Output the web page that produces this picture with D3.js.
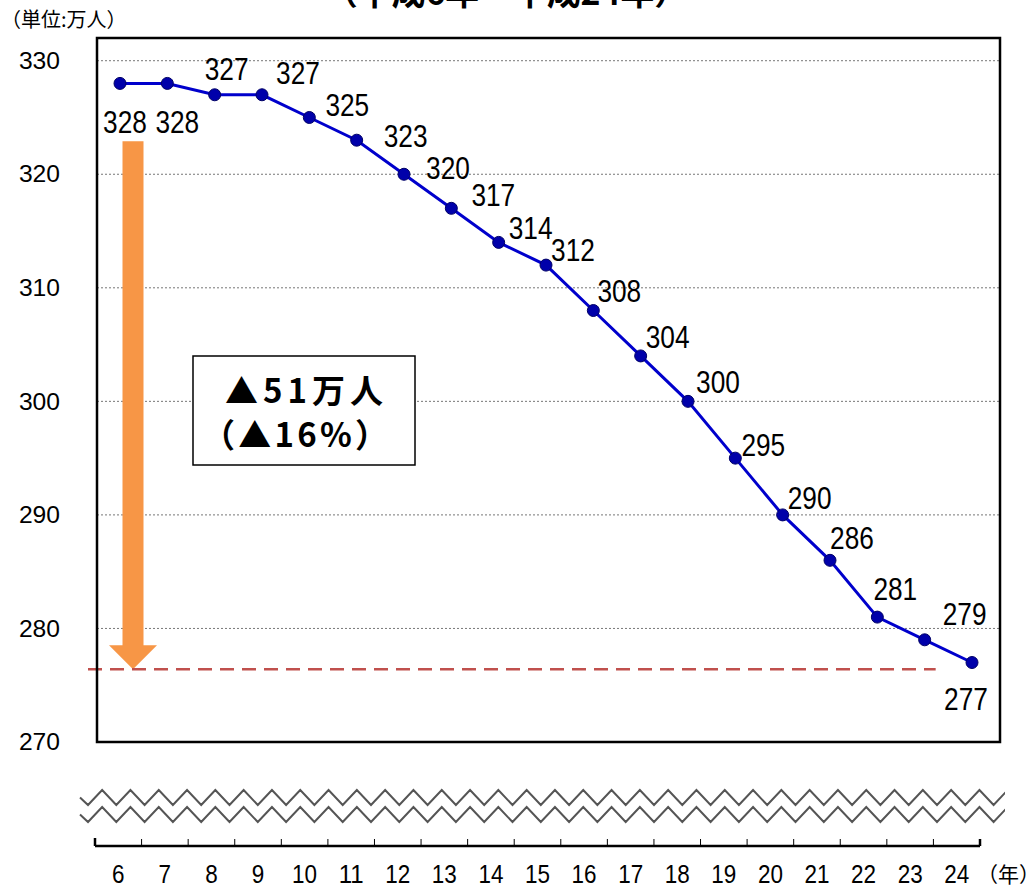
<!DOCTYPE html>
<html>
<head>
<meta charset="utf-8">
<script src="https://cdn.jsdelivr.net/npm/d3@7"></script>
<style>
  body { margin: 0; background: #fff; }
  svg { display: block; }
</style>
</head>
<body>
<div id="chart"></div>
<script>
// data (heisei years 6..24, workers in 10k persons)
const years = ["6", "7", "8", "9", "10", "11", "12", "13", "14", "15", "16", "17", "18", "19", "20", "21", "22", "23", "24"];
const workers = [328, 328, 327, 327, 325, 323, 320, 317, 314, 312, 308, 304, 300, 295, 290, 286, 281, 279, 277];
const yTicks = [270, 280, 290, 300, 310, 320, 330];
const gridTicks = [280, 290, 300, 310, 320, 330];
// arrow annotation: from just under the first label down to the dashed level
const arrowFrom = 322.9, arrowTo = 276.4;
const boxLines = ["▲51万人", "（▲16%）"];

const W = 1027, H = 888;
const plot = { left: 97, right: 1000, top: 38, bottom: 742 };

const svg = d3.select("#chart")
    .append("svg")
    .attr("width", W)
    .attr("height", H);

const numFont = "'Liberation Sans', Arial, sans-serif";
const jpFont = "'Noto Sans CJK JP', sans-serif";

// squeeze digits to look like the narrow gothic numerals of the original
function narrow(sel, perChar) {
    sel.attr("textLength", function () { return this.textContent.length * perChar; })
        .attr("lengthAdjust", "spacingAndGlyphs");
}

// scales
const y = d3.scaleLinear()
    .domain([270, 332])
    .range([plot.bottom, plot.top]);

const x = d3.scalePoint()
    .domain(years)
    .range([120, 972]);

// the separate x axis below the break marks
const xb = d3.scaleBand()
    .domain(years)
    .range([95, 980]);

// title (cut off at the top in the original)
svg.append("text")
    .attr("x", 506)
    .attr("y", 5)
    .attr("text-anchor", "middle")
    .attr("textLength", 364)
    .attr("lengthAdjust", "spacingAndGlyphs")
    .style("font-family", jpFont)
    .style("font-size", "34px")
    .style("font-weight", "bold")
    .text("（平成6年～平成24年）");

// unit label
svg.append("text")
    .attr("x", 1)
    .attr("y", 27)
    .style("font-family", jpFont)
    .style("font-size", "20px")
    .text("（単位:万人）");

// grid lines
svg.append("g")
    .selectAll("line")
    .data(gridTicks)
    .join("line")
    .attr("x1", plot.left)
    .attr("x2", plot.right)
    .attr("y1", d => y(d))
    .attr("y2", d => y(d))
    .attr("stroke", "#777")
    .attr("stroke-width", 1)
    .attr("stroke-dasharray", "2,2");

// y axis labels
const yAxis = svg.append("g")
    .attr("transform", `translate(${plot.left},0)`)
    .call(d3.axisLeft(y).tickValues(yTicks).tickSize(0).tickPadding(37));
yAxis.select(".domain").remove();
yAxis.selectAll("text")
    .style("font-family", numFont)
    .style("font-size", "24px")
    .attr("fill", "#000")
    .call(narrow, 13.7);

// orange arrow
const ax = x(years[0]) + 13;
const yTop = y(arrowFrom), yTip = y(arrowTo), yHead = yTip - 24;
svg.append("path")
    .attr("d", d3.line()([
        [ax - 10.5, yTop], [ax + 10.5, yTop], [ax + 10.5, yHead], [ax + 24, yHead],
        [ax, yTip], [ax - 24, yHead], [ax - 10.5, yHead]
    ]) + "Z")
    .attr("fill", "#F79646");

// dashed level line
svg.append("line")
    .attr("x1", 88)
    .attr("x2", x(years[years.length - 2]) + 11)
    .attr("y1", yTip)
    .attr("y2", yTip)
    .attr("stroke", "#C0504D")
    .attr("stroke-width", 2.5)
    .attr("stroke-dasharray", "14,8");

// plot border
svg.append("rect")
    .attr("x", plot.left)
    .attr("y", plot.top)
    .attr("width", plot.right - plot.left)
    .attr("height", plot.bottom - plot.top)
    .attr("fill", "none")
    .attr("stroke", "#000")
    .attr("stroke-width", 2.5);

// line + markers
const pts = years.map((d, i) => ({ year: d, value: workers[i], i: i }));

svg.append("path")
    .datum(pts)
    .attr("fill", "none")
    .attr("stroke", "#0000CC")
    .attr("stroke-width", 3)
    .attr("d", d3.line().x(d => x(d.year)).y(d => y(d.value)));

svg.append("g")
    .selectAll("circle")
    .data(pts)
    .join("circle")
    .attr("cx", d => x(d.year))
    .attr("cy", d => y(d.value))
    .attr("r", 6)
    .attr("fill", "#0000AA")
    .attr("stroke", "#000066")
    .attr("stroke-width", 1);

// where each value label sits relative to its marker (as in the original layout)
const labelNudge = [
    [5, 38], [10, 38], [12, -26], [36, -22], [38, -13], [49, -4], [44, -6],
    [42, -13], [32, -15], [27, -15], [26, -20], [27, -19], [30, -20], [28, -13],
    [27, -17], [22, -22], [18, -28], [40, -26], [-6, 36]
];

svg.append("g")
    .selectAll("text")
    .data(pts)
    .join("text")
    .attr("x", d => x(d.year) + labelNudge[d.i][0])
    .attr("y", d => y(d.value) + labelNudge[d.i][1])
    .attr("dy", "0.36em")
    .attr("text-anchor", "middle")
    .style("font-family", numFont)
    .style("font-size", "31px")
    .text(d => d.value)
    .call(narrow, 14.6);

// annotation box
const box = svg.append("g").attr("transform", "translate(193,356)");
box.append("rect")
    .attr("width", 222)
    .attr("height", 109)
    .attr("fill", "#fff")
    .attr("stroke", "#000")
    .attr("stroke-width", 1.5);
box.append("text")
    .attr("x", 111)
    .attr("y", 47)
    .attr("text-anchor", "middle")
    .attr("textLength", 158)
    .attr("lengthAdjust", "spacing")
    .style("font-family", jpFont)
    .style("font-size", "33px")
    .style("font-weight", "bold")
    .text(boxLines[0]);
box.append("text")
    .attr("x", 102)
    .attr("y", 91)
    .attr("text-anchor", "middle")
    .attr("textLength", 186)
    .attr("lengthAdjust", "spacing")
    .style("font-family", jpFont)
    .style("font-size", "33px")
    .style("font-weight", "bold")
    .text(boxLines[1]);

// axis break zigzags
function zigzag(yPeak, yTrough) {
    const p = [[80, (yPeak + yTrough) / 2]];
    for (let xx = 88, k = 0; xx < 1010; xx += 14.15, k++) {
        p.push([xx, k % 2 === 0 ? yTrough : yPeak]);
    }
    return p;
}
const brk = svg.append("g");
brk.append("clipPath").attr("id", "brkclip")
    .append("rect").attr("x", 78).attr("y", 780).attr("width", 927).attr("height", 50);
[[790, 805], [807, 822]].forEach(([a, b]) => {
    brk.append("path")
        .attr("d", d3.line()(zigzag(a, b)))
        .attr("clip-path", "url(#brkclip)")
        .attr("fill", "none")
        .attr("stroke", "#555")
        .attr("stroke-width", 2);
});

// x axis
const axisY = 846;
const xAxis = svg.append("g")
    .attr("transform", `translate(0,${axisY})`)
    .call(d3.axisBottom(xb).tickSize(0).tickPadding(19));
xAxis.select(".domain").remove();
xAxis.selectAll("text")
    .style("font-family", numFont)
    .style("font-size", "25px")
    .attr("fill", "#000")
    .call(narrow, 12.5);

svg.append("line")
    .attr("x1", xb.range()[0])
    .attr("x2", xb.range()[1])
    .attr("y1", axisY)
    .attr("y2", axisY)
    .attr("stroke", "#000")
    .attr("stroke-width", 2.5);

svg.append("g")
    .selectAll("line")
    .data(years.map(d => xb(d)).concat([xb.range()[1]]))
    .join("line")
    .attr("x1", d => d)
    .attr("x2", d => d)
    .attr("y1", (d, i) => i === 0 ? axisY - 8 : axisY - 7)
    .attr("y2", axisY)
    .attr("stroke", "#000")
    .attr("stroke-width", (d, i) => (i === 0 || i === years.length) ? 2.5 : 1);

svg.append("text")
    .attr("x", 977)
    .attr("y", 882)
    .style("font-family", jpFont)
    .style("font-size", "21px")
    .text("（年）");
</script>
</body>
</html>
